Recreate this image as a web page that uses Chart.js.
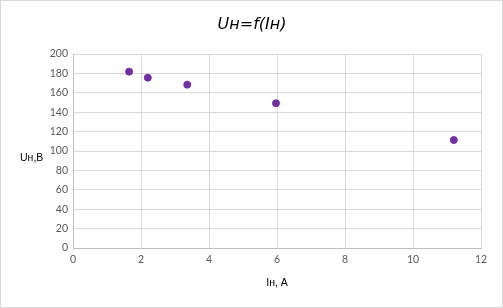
<!DOCTYPE html>
<html>
<head>
<meta charset="utf-8">
<script src="https://cdn.jsdelivr.net/npm/chart.js@4"></script>
<style>
  html, body { margin: 0; padding: 0; background: #fff; }
  #wrap { width: 503px; height: 308px; position: relative; }
</style>
</head>
<body>
<div id="wrap"><canvas id="myChart"></canvas></div>
<script>
  const currentI = [1.65, 2.2, 3.36, 5.97, 11.2];
  const voltageU = [181.8, 175.6, 168.4, 149.2, 111.3];
  const chartTitle = 'Uн=f(Iн)';
  const xTitle = 'Iн, А';
  const yTitle = 'Uн,В';

  const points = currentI.map((x, i) => ({ x: x, y: voltageU[i] }));

  const data = {
    datasets: [{
      label: 'Uн',
      backgroundColor: '#7030A0',
      borderColor: '#7030A0',
      pointRadius: 3.5,
      data: points,
    }]
  };

  // chart title, horizontal y-axis title and light frame
  const extras = {
    id: 'extras',
    afterDraw(chart) {
      const ctx = chart.ctx;
      ctx.save();
      ctx.strokeStyle = '#d9d9d9';
      ctx.lineWidth = 1;
      ctx.strokeRect(0.5, 0.5, chart.width - 1, chart.height - 1);
      ctx.fillStyle = '#000';
      ctx.textBaseline = 'middle';
      ctx.textAlign = 'center';
      ctx.font = 'italic 16px "DejaVu Sans", sans-serif';
      ctx.fillText(chartTitle, 252, 25);
      ctx.textAlign = 'left';
      ctx.font = '10.5px "Liberation Sans", Arial, sans-serif';
      ctx.fillText(yTitle, 20, 158);
      ctx.restore();
    }
  };

  const config = {
    type: 'scatter',
    data: data,
    plugins: [extras],
    options: {
      responsive: false,
      animation: false,
      layout: { padding: { left: 0, right: 22, top: 54, bottom: 0 } },
      plugins: {
        legend: { display: false },
        tooltip: { enabled: false },
        title: { display: false }
      },
      scales: {
        x: {
          type: 'linear',
          min: 0,
          max: 12,
          afterFit: (scale) => { scale.height = 60; },
          ticks: { stepSize: 2, color: '#595959', padding: 5, font: { family: 'Lato', size: 10.5 } },
          grid: { color: '#d9d9d9', drawTicks: false },
          border: { color: '#bfbfbf' },
          title: {
            display: true,
            text: xTitle,
            color: '#000',
            font: { family: '"Liberation Sans", Arial, sans-serif', size: 10.5 },
            padding: { top: 0, bottom: 19 }
          }
        },
        y: {
          min: 0,
          max: 200,
          afterFit: (scale) => { scale.width = 73; },
          ticks: { stepSize: 20, color: '#595959', padding: 5, font: { family: 'Lato', size: 10.5 } },
          grid: { color: '#d9d9d9', drawTicks: false },
          border: { color: '#bfbfbf' }
        }
      }
    }
  };

  const canvas = document.getElementById('myChart');
  canvas.width = 503;
  canvas.height = 308;
  const myChart = new Chart(canvas, config);
</script>
</body>
</html>
